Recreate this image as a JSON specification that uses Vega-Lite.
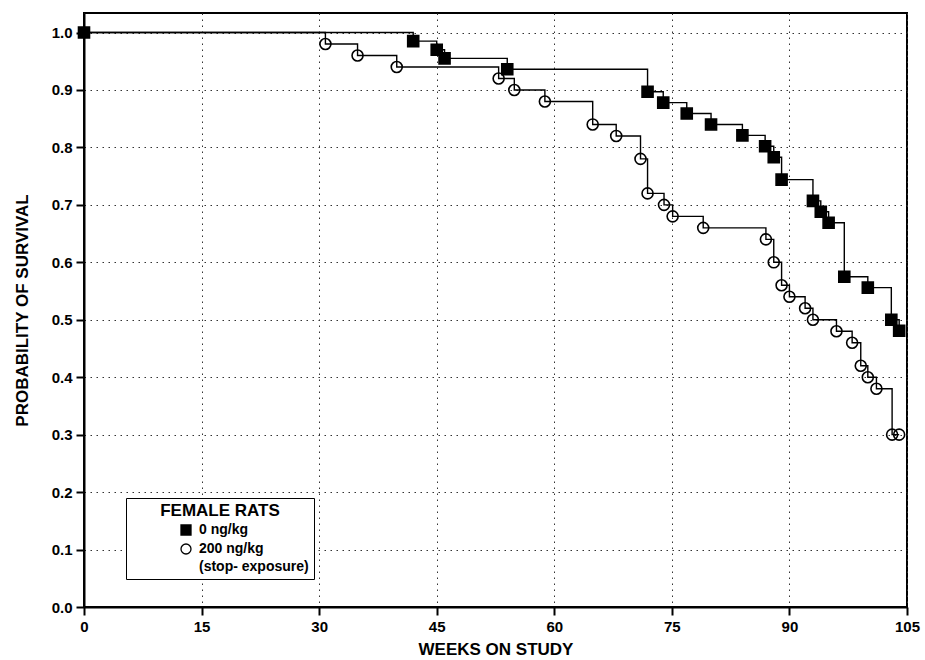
{
  "$schema": "https://vega.github.io/schema/vega-lite/v6.json",
  "width": 823,
  "height": 594,
  "autosize": {"type": "none"},
  "padding": {"left": 84, "top": 13, "right": 18, "bottom": 53},
  "background": "white",
  "config": {
    "view": {"stroke": "black", "strokeWidth": 2},
    "font": "Liberation Sans",
    "axis": {
      "domainColor": "black",
      "domainWidth": 2,
      "tickColor": "black",
      "tickWidth": 2,
      "tickSize": 8,
      "labelFont": "Liberation Sans",
      "labelFontWeight": "bold",
      "labelFontSize": 15,
      "labelColor": "black",
      "labelFlush": false,
      "labelPadding": 4,
      "grid": true,
      "gridDash": [1.5, 4.5],
      "gridColor": "#333333",
      "gridWidth": 1,
      "gridOpacity": 1,
      "titleFont": "Liberation Sans",
      "titleFontWeight": "bold",
      "titleColor": "black"
    }
  },
  "datasets": {
    "km": [
      {"group": "0 ng/kg", "week": 0, "surv": 1.0},
      {"group": "0 ng/kg", "week": 42, "surv": 0.985},
      {"group": "0 ng/kg", "week": 45, "surv": 0.970},
      {"group": "0 ng/kg", "week": 46, "surv": 0.955},
      {"group": "0 ng/kg", "week": 54, "surv": 0.936},
      {"group": "0 ng/kg", "week": 71.9, "surv": 0.897},
      {"group": "0 ng/kg", "week": 73.9, "surv": 0.878},
      {"group": "0 ng/kg", "week": 76.9, "surv": 0.859},
      {"group": "0 ng/kg", "week": 80, "surv": 0.840},
      {"group": "0 ng/kg", "week": 84, "surv": 0.821},
      {"group": "0 ng/kg", "week": 86.9, "surv": 0.802},
      {"group": "0 ng/kg", "week": 88, "surv": 0.783},
      {"group": "0 ng/kg", "week": 89, "surv": 0.744},
      {"group": "0 ng/kg", "week": 93, "surv": 0.707},
      {"group": "0 ng/kg", "week": 94, "surv": 0.688},
      {"group": "0 ng/kg", "week": 95, "surv": 0.669},
      {"group": "0 ng/kg", "week": 97, "surv": 0.575},
      {"group": "0 ng/kg", "week": 100, "surv": 0.556},
      {"group": "0 ng/kg", "week": 103, "surv": 0.500},
      {"group": "0 ng/kg", "week": 104, "surv": 0.481},
      {"group": "200 ng/kg", "week": 0, "surv": 1.0},
      {"group": "200 ng/kg", "week": 30.8, "surv": 0.98},
      {"group": "200 ng/kg", "week": 34.9, "surv": 0.96},
      {"group": "200 ng/kg", "week": 39.9, "surv": 0.94},
      {"group": "200 ng/kg", "week": 52.9, "surv": 0.92},
      {"group": "200 ng/kg", "week": 54.9, "surv": 0.90},
      {"group": "200 ng/kg", "week": 58.8, "surv": 0.88},
      {"group": "200 ng/kg", "week": 64.9, "surv": 0.84},
      {"group": "200 ng/kg", "week": 67.9, "surv": 0.82},
      {"group": "200 ng/kg", "week": 71, "surv": 0.78},
      {"group": "200 ng/kg", "week": 71.9, "surv": 0.72},
      {"group": "200 ng/kg", "week": 74, "surv": 0.70},
      {"group": "200 ng/kg", "week": 75.1, "surv": 0.68},
      {"group": "200 ng/kg", "week": 79, "surv": 0.66},
      {"group": "200 ng/kg", "week": 87, "surv": 0.64},
      {"group": "200 ng/kg", "week": 88, "surv": 0.60},
      {"group": "200 ng/kg", "week": 89, "surv": 0.56},
      {"group": "200 ng/kg", "week": 90, "surv": 0.54},
      {"group": "200 ng/kg", "week": 92, "surv": 0.52},
      {"group": "200 ng/kg", "week": 93, "surv": 0.50},
      {"group": "200 ng/kg", "week": 96, "surv": 0.48},
      {"group": "200 ng/kg", "week": 98, "surv": 0.46},
      {"group": "200 ng/kg", "week": 99.1, "surv": 0.42},
      {"group": "200 ng/kg", "week": 100, "surv": 0.40},
      {"group": "200 ng/kg", "week": 101.1, "surv": 0.38},
      {"group": "200 ng/kg", "week": 103.1, "surv": 0.30},
      {"group": "200 ng/kg", "week": 104, "surv": 0.30}
    ]
  },
  "data": {"name": "km"},
  "encoding": {
    "x": {
      "field": "week",
      "type": "quantitative",
      "scale": {"domain": [0, 105], "nice": false, "zero": false},
      "axis": {
        "title": "WEEKS ON STUDY",
        "values": [0, 15, 30, 45, 60, 75, 90, 105],
        "titleFontSize": 17,
        "titlePadding": 7
      }
    },
    "y": {
      "field": "surv",
      "type": "quantitative",
      "scale": {"domain": [0, 1.034], "nice": false},
      "axis": {
        "title": "PROBABILITY OF SURVIVAL",
        "values": [0, 0.1, 0.2, 0.3, 0.4, 0.5, 0.6, 0.7, 0.8, 0.9, 1.0],
        "format": ".1f",
        "titleFontSize": 17,
        "titlePadding": 20
      }
    }
  },
  "layer": [
    {
      "mark": {"type": "line", "interpolate": "step-after", "color": "black", "strokeWidth": 1.4},
      "encoding": {"detail": {"field": "group", "type": "nominal"}}
    },
    {
      "transform": [{"filter": "!(datum.group == '200 ng/kg' && datum.week == 0)"}],
      "mark": {"type": "point", "stroke": "black", "strokeWidth": 1.6, "size": 121, "opacity": 1},
      "encoding": {
        "shape": {
          "field": "group",
          "type": "nominal",
          "scale": {"domain": ["0 ng/kg", "200 ng/kg", "(stop- exposure)"], "range": ["square", "circle", "M0,0"]},
          "legend": {
            "title": "FEMALE RATS",
            "orient": "none",
            "legendX": 42,
            "legendY": 485,
            "padding": 5,
            "fillColor": "white",
            "strokeColor": "black",
            "titleFont": "Liberation Sans",
            "titleFontSize": 17,
            "titleFontWeight": "bold",
            "titleColor": "black",
            "titleAnchor": "middle",
            "titlePadding": 3,
            "symbolOffset": 48,
            "symbolSize": 100,
            "symbolStrokeWidth": 1.3,
            "labelOffset": 6,
            "labelFont": "Liberation Sans",
            "labelFontSize": 14,
            "labelFontWeight": "bold",
            "labelColor": "black",
            "rowPadding": 3,
            "encode": {
              "legend": {"update": {"strokeWidth": {"value": 2}}}
            }
          }
        },
        "fill": {
          "field": "group",
          "type": "nominal",
          "scale": {"domain": ["0 ng/kg", "200 ng/kg", "(stop- exposure)"], "range": ["black", "transparent", "transparent"]},
          "legend": {
            "title": "FEMALE RATS",
            "orient": "none",
            "legendX": 42,
            "legendY": 485
          }
        }
      }
    }
  ]
}
